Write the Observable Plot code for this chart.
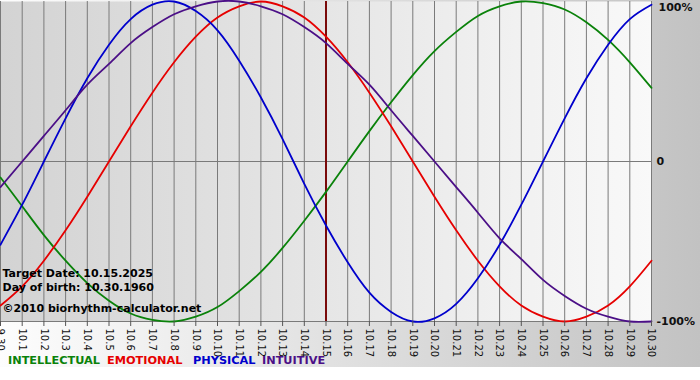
<!DOCTYPE html>
<html><head><meta charset="utf-8">
<script src="https://cdn.jsdelivr.net/npm/d3@7"></script>
<script src="https://cdn.jsdelivr.net/npm/@observablehq/plot@0.6"></script>
<style>
body{margin:0;background:#fff;}
#wrap{width:700px;height:367px;background:linear-gradient(to right,#fdfdfd,#c2c2c2);position:relative;overflow:hidden;}
#legend{position:absolute;left:0;top:354px;width:700px;height:14px;font:bold 11.3px "DejaVu Sans",sans-serif;white-space:nowrap;}
#legend span{position:absolute;top:0;}
</style></head><body><div id="wrap"><div id="chart"></div><div id="legend"></div></div>
<script>
const dayLabels = ["9.30","10.1","10.2","10.3","10.4","10.5","10.6","10.7","10.8","10.9","10.10","10.11","10.12","10.13","10.14","10.15","10.16","10.17","10.18","10.19","10.20","10.21","10.22","10.23","10.24","10.25","10.26","10.27","10.28","10.29","10.30"];
const intellectual = [-0.10,-0.28,-0.46,-0.62,-0.76,-0.87,-0.95,-0.99,-1.00,-0.97,-0.91,-0.81,-0.69,-0.54,-0.37,-0.19,0.00,0.19,0.37,0.54,0.69,0.81,0.91,0.97,1.00,0.99,0.95,0.87,0.76,0.62,0.46];
const emotional = [-0.90,-0.78,-0.62,-0.43,-0.22,0.00,0.22,0.43,0.62,0.78,0.90,0.97,1.00,0.97,0.90,0.78,0.62,0.43,0.22,0.00,-0.22,-0.43,-0.62,-0.78,-0.90,-0.97,-1.00,-0.97,-0.90,-0.78,-0.62];
const physical = [-0.52,-0.27,0.00,0.27,0.52,0.73,0.89,0.98,1.00,0.94,0.82,0.63,0.40,0.14,-0.14,-0.40,-0.63,-0.82,-0.94,-1.00,-0.98,-0.89,-0.73,-0.52,-0.27,0.00,0.27,0.52,0.73,0.89,0.98];
const intuitive = [-0.16,0.00,0.16,0.32,0.48,0.61,0.74,0.84,0.92,0.97,1.00,1.00,0.97,0.92,0.84,0.74,0.61,0.48,0.32,0.16,0.00,-0.16,-0.32,-0.48,-0.61,-0.74,-0.84,-0.92,-0.97,-1.00,-1.00];
const seriesNames = ["INTELLECTUAL","EMOTIONAL","PHYSICAL","INTUITIVE"];
const seriesColors = ["#0a820a","#e60000","#0000cc","#4b0f87"];
const yTickValues = [1,0,-1];
const yTickLabels = ["100%","0","-100%"];
const targetIndex = 15;
const infoLines = ["Target Date: 10.15.2025","Day of birth: 10.30.1960","\u00a92010 biorhythm-calculator.net"];

const idx = dayLabels.map((d,i)=>i);
const seriesData = [intellectual, emotional, physical, intuitive];
const rows = [];
seriesData.forEach((arr,s)=>arr.forEach((v,i)=>rows.push({i, v, s: seriesNames[s]})));

const font = '"DejaVu Sans", Verdana, sans-serif';
const chart = Plot.plot({
  width: 700, height: 352,
  marginLeft: 0, marginRight: 49, marginTop: 1, marginBottom: 31,
  style: {fontFamily: font, fontSize: "10px", background: "transparent", color: "#111", overflow: "visible"},
  x: {domain: [0, 30], ticks: idx, tickFormat: i => dayLabels[i], label: null},
  y: {domain: [-1, 1], axis: null},
  color: {domain: seriesNames, range: seriesColors},
  marks: [
    Plot.frame({fill: "url(#plotbg)", stroke: null}),
    Plot.ruleX(idx, {stroke: "#7a7a7a", strokeWidth: 1}),
    Plot.ruleY([0], {stroke: "#7a7a7a", strokeWidth: 1}),
    Plot.ruleY([-1], {stroke: "#7a7a7a", strokeWidth: 1}),
    Plot.ruleX([targetIndex], {stroke: "#7a0a0a", strokeWidth: 2}),
    Plot.line(rows, {x: "i", y: "v", z: "s", stroke: "s", strokeWidth: 1.8, curve: "natural"}),
    Plot.axisX({ticks: idx, tickFormat: i => dayLabels[i], tickRotate: 90, tickSize: 5, tickPadding: 2, stroke: "#555", fill: "#111", fontSize: 10, label: null}),
    Plot.text(yTickValues.slice(1), {x: 30, y: d => d, text: d => yTickLabels[yTickValues.indexOf(d)], dx: 5, textAnchor: "start", fontWeight: "bold", fontSize: 11, fill: "#111"}),
    Plot.text([yTickValues[0]], {x: 30, y: d => d, text: d => yTickLabels[0], dx: 7, dy: 6, textAnchor: "start", fontWeight: "bold", fontSize: 11, fill: "#111"}),
    Plot.text([infoLines[0]], {frameAnchor: "bottom-left", dx: 2, dy: -45, textAnchor: "start", lineAnchor: "bottom", fontWeight: "bold", fontSize: 11, fill: "#000"}),
    Plot.text([infoLines[1]], {frameAnchor: "bottom-left", dx: 2, dy: -31, textAnchor: "start", lineAnchor: "bottom", fontWeight: "bold", fontSize: 11, fill: "#000"}),
    Plot.text([infoLines[2]], {frameAnchor: "bottom-left", dx: 2, dy: -10, textAnchor: "start", lineAnchor: "bottom", fontWeight: "bold", fontSize: 11, fill: "#000"})
  ]
});
chart.insertAdjacentHTML("afterbegin", '<defs><linearGradient id="plotbg" x1="0" x2="1" y1="0" y2="0"><stop offset="0" stop-color="#d3d3d3"/><stop offset="1" stop-color="#f9f9f9"/></linearGradient></defs>');
document.getElementById("chart").appendChild(chart);
const lg = document.getElementById("legend");
const legendLeft = [8, 107, 193, 262];
seriesNames.forEach((n,k)=>{const s=document.createElement("span");s.textContent=n;s.style.color=seriesColors[k];s.style.left=legendLeft[k]+"px";lg.appendChild(s);});
</script></body></html>
